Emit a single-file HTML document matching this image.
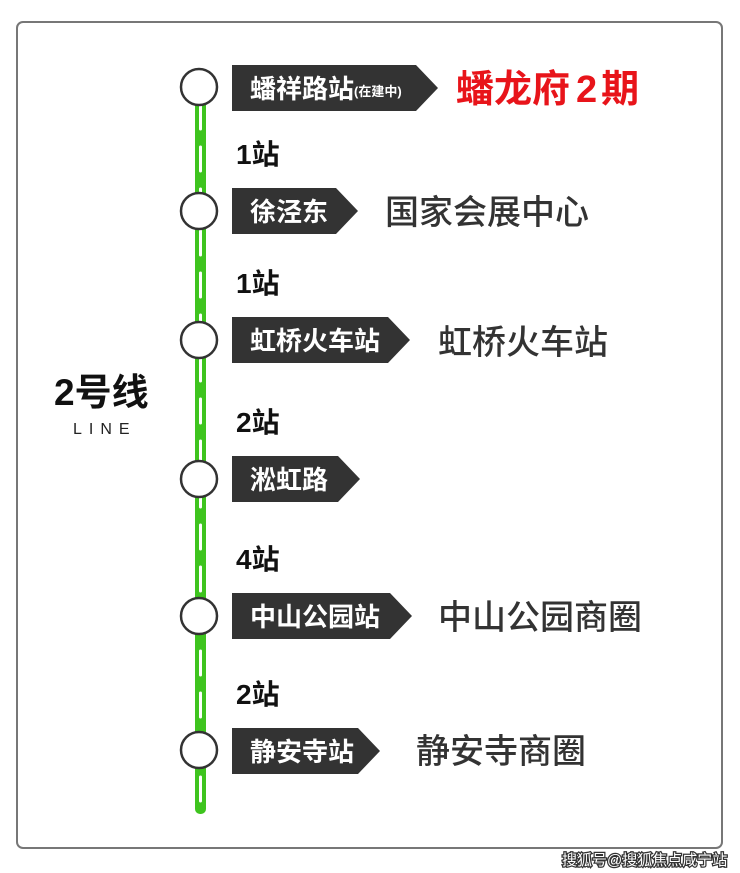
<!DOCTYPE html>
<html><head><meta charset="utf-8"><style>
html,body{margin:0;padding:0;background:#fff;}
svg{display:block;}
text{font-family:"Liberation Sans","Noto Sans CJK SC",sans-serif;}
</style></head><body>
<svg width="740" height="873" viewBox="0 0 740 873" xmlns="http://www.w3.org/2000/svg">
<rect x="17" y="22" width="705" height="826" rx="6" fill="#fff" stroke="#777" stroke-width="2"/>
<rect x="195" y="100" width="11" height="714" rx="5" fill="#3ec41e"/>
<line x1="200.5" y1="105" x2="200.5" y2="808" stroke="#fff" stroke-width="3" stroke-dasharray="24 18" stroke-linecap="round"/>
<g fill="#fff" stroke="#333" stroke-width="2.5">
<circle cx="199" cy="87" r="18"/>
<circle cx="199" cy="211" r="18"/>
<circle cx="199" cy="340" r="18"/>
<circle cx="199" cy="479" r="18"/>
<circle cx="199" cy="616" r="18"/>
<circle cx="199" cy="750" r="18"/>
</g>
<g fill="#333">
<polygon points="232,65 416,65 438,88 416,111 232,111"/>
<polygon points="232,188 336,188 358,211 336,234 232,234"/>
<polygon points="232,317 388,317 410,340 388,363 232,363"/>
<polygon points="232,456 338,456 360,479 338,502 232,502"/>
<polygon points="232,593 390,593 412,616 390,639 232,639"/>
<polygon points="232,728 358,728 380,751 358,774 232,774"/>
</g>
<g fill="#fff" font-weight="bold" font-size="26">
<text x="250" y="98">蟠祥路站<tspan font-size="13" dy="-2">(在建中)</tspan></text>
<text x="250" y="221">徐泾东</text>
<text x="250" y="350">虹桥火车站</text>
<text x="250" y="489">淞虹路</text>
<text x="250" y="626">中山公园站</text>
<text x="250" y="761">静安寺站</text>
</g>
<text x="456" y="102" fill="#e8141a" font-weight="bold" font-size="38">蟠龙府<tspan dx="6">2</tspan><tspan dx="4">期</tspan></text>
<g fill="#333" font-size="34" font-weight="500">
<text x="385" y="224">国家会展中心</text>
<text x="438" y="354">虹桥火车站</text>
<text x="438" y="629">中山公园商圈</text>
<text x="416" y="763">静安寺商圈</text>
</g>
<g fill="#111" font-weight="bold" font-size="28">
<text x="236" y="164">1站</text>
<text x="236" y="293">1站</text>
<text x="236" y="432">2站</text>
<text x="236" y="569">4站</text>
<text x="236" y="704">2站</text>
</g>
<text x="54" y="405" fill="#111" font-weight="bold" font-size="37">2号线</text>
<text x="73" y="434" fill="#222" font-size="16" letter-spacing="7">LINE</text>
<text x="562" y="865" fill="#fff" stroke="#333" stroke-width="2.5" paint-order="stroke" font-size="15">搜狐号@搜狐焦点咸宁站</text>
</svg>
</body></html>
